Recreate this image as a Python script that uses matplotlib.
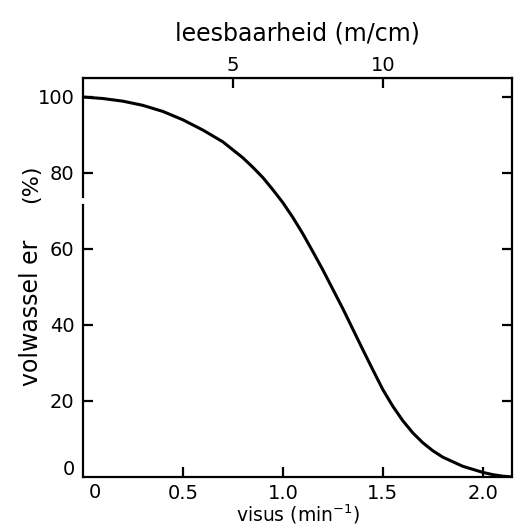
import matplotlib.pyplot as plt

# curve: visus (min^-1) vs. percentage of adults
visus = [0.0, 0.1, 0.2, 0.3, 0.4, 0.5, 0.6, 0.7, 0.8, 0.85, 0.9, 0.95, 1.0, 1.05, 1.1,
         1.15, 1.2, 1.25, 1.3, 1.35, 1.4, 1.45, 1.5, 1.55, 1.6, 1.65, 1.7, 1.75, 1.8,
         1.9, 1.95, 2.0, 2.05, 2.1, 2.145]
percent = [100.0, 99.6, 98.9, 97.8, 96.2, 94.0, 91.3, 88.2, 84.0, 81.5, 78.8, 75.6, 72.2, 68.3, 64.0,
           59.3, 54.5, 49.4, 44.3, 38.9, 33.5, 28.2, 23.0, 18.6, 14.8, 11.6, 9.0, 6.9, 5.2,
           2.8, 2.0, 1.2, 0.6, 0.2, 0.0]

x_ticks = [0.5, 1.0, 1.5, 2.0]
x_labels = ['0.5', '1.0', '1.5', '2.0']
y_ticks = [20, 40, 60, 80, 100]
top_ticks = [5, 10]


def to_lees(v):
    return v * 20 / 3


def from_lees(l):
    return l * 3 / 20


plt.rcParams['font.family'] = ['DejaVu Sans']
fig = plt.figure(figsize=(5.18, 5.27), dpi=100)
ax = fig.add_axes([0.160, 0.095, 0.828, 0.757])

ax.plot(visus, percent, color='black', lw=2.2)

ax.set_xlim(0, 2.145)
ax.set_ylim(0, 105)

for s in ax.spines.values():
    s.set_linewidth(1.6)

# the left axis line is broken just below 80 in the original print
ax.spines['left'].set_visible(False)
ax.axvline(0, 0, 71.5 / 105, color='black', lw=1.6, clip_on=False)
ax.axvline(0, 73.8 / 105, 1, color='black', lw=1.6, clip_on=False)

ax.set_xticks(x_ticks)
ax.set_xticklabels(x_labels)
ax.set_yticks(y_ticks)
ax.tick_params(axis='both', direction='in', length=7, width=1.6, labelsize=14, pad=6)
ax.tick_params(axis='y', right=True, labelright=False)
ax.tick_params(axis='x', pad=5)

# origin labels
ax.text(0.06, -1.7, '0', fontsize=14, ha='center', va='top')
ax.text(-0.04, 2, '0', fontsize=14, ha='right', va='center')

fig.text(298 / 518, 5 / 527, 'visus (min$^{-1}$)', fontsize=13.5, ha='center', va='baseline')
fig.text(31 / 518, 1 - 184 / 527, '(%)', rotation=90, fontsize=16, ha='center', va='center')
fig.text(31 / 518, 1 - 313 / 527, 'volwassel er', rotation=90, fontsize=17,
         ha='center', va='center')

top = ax.secondary_xaxis('top', functions=(to_lees, from_lees))
top.set_xticks(top_ticks)
top.tick_params(direction='in', length=7, width=1.6, labelsize=14, pad=2)
top.set_xlabel('leesbaarheid (m/cm)', fontsize=17, labelpad=11)

plt.savefig('out.png', dpi=100)
plt.close()
